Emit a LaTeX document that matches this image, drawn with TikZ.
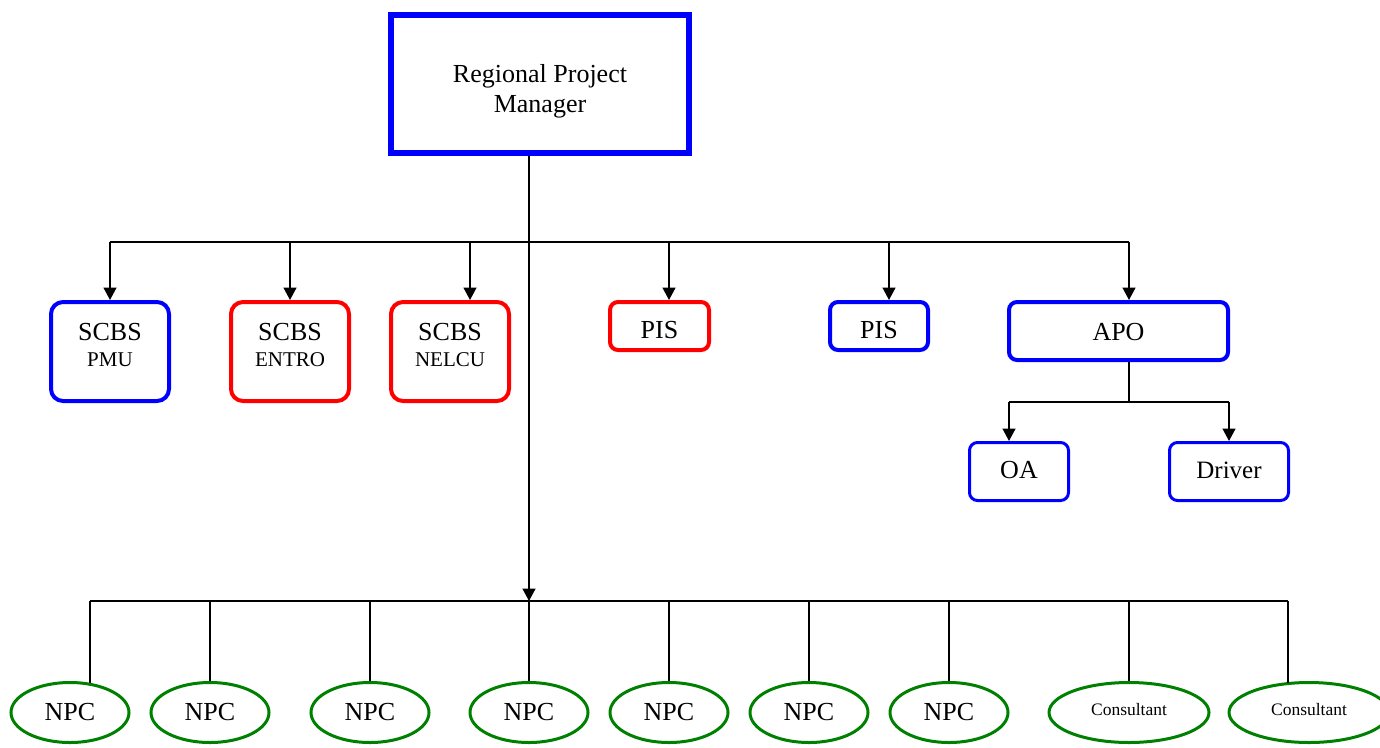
\documentclass[tikz,border=0pt]{standalone}
\usepackage{fontspec}
\setmainfont{Liberation Serif}
\usetikzlibrary{arrows.meta,shapes.geometric}
\definecolor{cblue}{RGB}{0,0,255}
\definecolor{cred}{RGB}{255,0,0}
\definecolor{cgreen}{RGB}{0,128,0}
\begin{document}
\begin{tikzpicture}[x=1pt,y=-1pt,
  conn/.style={line width=1.5pt, draw=black},
  arr/.style={conn, -{Triangle[length=12.5pt,width=13pt]}},
  box/.style={draw, rounded corners=#1, inner sep=0pt},
  bigtxt/.style={font=\fontsize{26}{30}\selectfont, inner sep=0pt, anchor=base},
  smalltxt/.style={font=\fontsize{21}{25}\selectfont, inner sep=0pt, anchor=base},
  constxt/.style={font=\fontsize{17.5}{20}\selectfont, inner sep=0pt, anchor=base},
  oval/.style={ellipse, draw=cgreen, line width=3pt, inner sep=0pt, minimum height=60pt},
  npc/.style={oval, minimum width=118pt, font=\fontsize{26}{30}\selectfont},
  cons/.style={oval, minimum width=160pt}
]
\useasboundingbox (0,0) rectangle (1380,747);

% top box
\node[draw=cblue, line width=6pt, minimum width=298pt, minimum height=138pt, inner sep=0pt] (rpm) at (540,84) {};
\node[bigtxt] (rpm1) at (540,82) {Regional Project};
\node[bigtxt] (rpm2) at (540,112) {Manager};

% second level
\node[box=12pt, draw=cblue, line width=4pt, minimum width=118pt, minimum height=99pt] (pmu) at (110,351.5) {};
\node[bigtxt] (pmu1) at (110,340) {SCBS};
\node[smalltxt] (pmu2) at (110,366.5) {PMU};
\node[box=12pt, draw=cred, line width=4pt, minimum width=118pt, minimum height=99pt] (entro) at (290,351.5) {};
\node[bigtxt] (entro1) at (290,340) {SCBS};
\node[smalltxt] (entro2) at (290,366.5) {ENTRO};
\node[box=12pt, draw=cred, line width=4pt, minimum width=118pt, minimum height=99pt] (nelcu) at (450,351.5) {};
\node[bigtxt] (nelcu1) at (450,340) {SCBS};
\node[smalltxt] (nelcu2) at (450,366.5) {NELCU};

\node[box=8pt, draw=cred, line width=4pt, minimum width=99pt, minimum height=48pt] (pisa) at (659.5,326) {};
\node[bigtxt] (pisat) at (659.5,338.5) {PIS};
\node[box=8pt, draw=cblue, line width=4pt, minimum width=98pt, minimum height=48pt] (pisb) at (879,326) {};
\node[bigtxt] (pisbt) at (879,338.5) {PIS};
\node[box=8pt, draw=cblue, line width=4pt, minimum width=219pt, minimum height=58pt] (apo) at (1118.5,331) {};
\node[bigtxt] (apot) at (1118.5,340) {APO};

\node[box=8pt, draw=cblue, line width=3pt, minimum width=99pt, minimum height=58pt] (oa) at (1019,471.5) {};
\node[bigtxt] (oat) at (1019,478) {OA};
\node[box=8pt, draw=cblue, line width=3pt, minimum width=119pt, minimum height=58pt] (drv) at (1229,471.5) {};
\node[font=\fontsize{25}{30}\selectfont, inner sep=0pt, anchor=base] (drvt) at (1229,478) {Driver};

% bottom level
\node[npc] (n1) at (70,712.5) {NPC};
\node[npc] (n2) at (210,712.5) {NPC};
\node[npc] (n3) at (370,712.5) {NPC};
\node[npc] (n4) at (529,712.5) {NPC};
\node[npc] (n5) at (669,712.5) {NPC};
\node[npc] (n6) at (809,712.5) {NPC};
\node[npc] (n7) at (949,712.5) {NPC};
\node[cons] (c1) at (1129,712.5) {};
\node[constxt] (c1t) at (1129,715) {Consultant};
\node[cons] (c2) at (1309,712.5) {};
\node[constxt] (c2t) at (1309,715) {Consultant};

% connectors
\coordinate (bus) at (529,242);
\coordinate (nbus) at (529,601);
\coordinate (abus) at (1129,402);

\draw[arr] ([xshift=-11pt]rpm.south) -- ([xshift=-11pt]rpm.south |- nbus);
\draw[conn] (pmu.north |- bus) -- ([xshift=10.5pt]apo.north |- bus);
\draw[arr] (pmu.north |- bus) -- (pmu.north);
\draw[arr] (entro.north |- bus) -- (entro.north);
\draw[arr] ([xshift=20pt]nelcu.north |- bus) -- ([xshift=20pt]nelcu.north);
\draw[arr] ([xshift=9.5pt]pisa.north |- bus) -- ([xshift=9.5pt]pisa.north);
\draw[arr] ([xshift=10pt]pisb.north |- bus) -- ([xshift=10pt]pisb.north);
\draw[arr] ([xshift=10.5pt]apo.north |- bus) -- ([xshift=10.5pt]apo.north);

\draw[conn] ([xshift=10.5pt]apo.south) -- ([xshift=10.5pt]apo.south |- abus);
\draw[conn] ([xshift=-10pt]oa.north |- abus) -- (drv.north |- abus);
\draw[arr] ([xshift=-10pt]oa.north |- abus) -- ([xshift=-10pt]oa.north);
\draw[arr] (drv.north |- abus) -- (drv.north);

\draw[conn] ([xshift=20pt]n1.north |- nbus) -- ([xshift=-21pt]c2.north |- nbus);
\draw[conn] ([xshift=20pt]n1.north |- nbus) -- ([xshift=20pt,yshift=-2pt]n1.north);
\draw[conn] (n2.north |- nbus) -- (n2.north);
\draw[conn] (n3.north |- nbus) -- (n3.north);
\draw[conn] (n4.north |- nbus) -- (n4.north);
\draw[conn] (n5.north |- nbus) -- (n5.north);
\draw[conn] (n6.north |- nbus) -- (n6.north);
\draw[conn] (n7.north |- nbus) -- (n7.north);
\draw[conn] (c1.north |- nbus) -- (c1.north);
\draw[conn] ([xshift=-21pt]c2.north |- nbus) -- ([xshift=-21pt,yshift=-1.5pt]c2.north);
\end{tikzpicture}
\end{document}
